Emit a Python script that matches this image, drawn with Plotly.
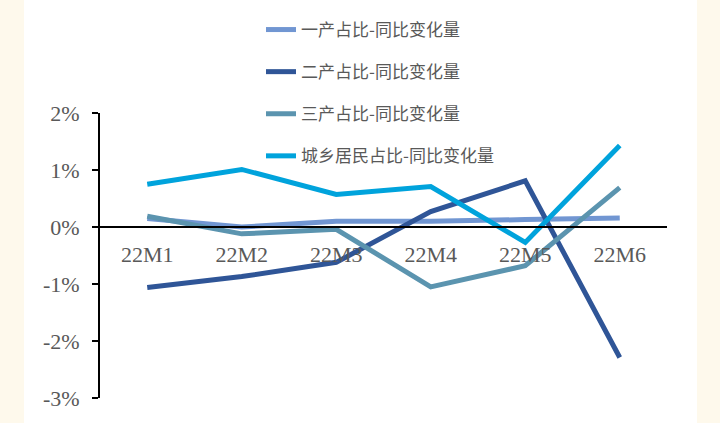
import plotly.graph_objects as go

categories = ["22M1", "22M2", "22M3", "22M4", "22M5", "22M6"]
primary = [0.15, 0.00, 0.10, 0.10, 0.13, 0.16]
secondary = [-1.06, -0.87, -0.62, 0.27, 0.81, -2.29]
tertiary = [0.19, -0.12, -0.04, -1.05, -0.68, 0.69]
residents = [0.75, 1.01, 0.57, 0.71, -0.27, 1.43]
series_names = ["一产占比-同比变化量", "二产占比-同比变化量", "三产占比-同比变化量", "城乡居民占比-同比变化量"]
series_colors = ["#7196D2", "#2F5597", "#5B94AF", "#00A3DC"]
y_ticks = [-3, -2, -1, 0, 1, 2]
y_tick_labels = ["-3%", "-2%", "-1%", "0%", "1%", "2%"]

fig = go.Figure()
for i, (name, vals, col) in enumerate(zip(series_names, [primary, secondary, tertiary, residents], series_colors)):
    fig.add_trace(go.Scatter(
        x=list(range(len(categories))), y=vals, name=name, mode="lines",
        line=dict(color=col, width=5), legendgroup=f"g{i}",
    ))

L, R, T, B = 100, 53, 113, 25
W, H = 720, 423
pw = W - L - R
ph = H - T - B
zero_pos = 3 / 5

fig.update_layout(
    width=W, height=H,
    margin=dict(l=L, r=R, t=T, b=B, autoexpand=False),
    paper_bgcolor="#FEF9EC",
    plot_bgcolor="white",
    font=dict(family="Liberation Serif, Times New Roman, serif", color="#595959"),
    showlegend=True,
    legend=dict(
        x=(261 - L) / pw, y=1 + (T - 12) / ph, xanchor="left", yanchor="top",
        bgcolor="rgba(0,0,0,0)", tracegroupgap=17,
        font=dict(family="Noto Sans CJK SC", size=17, color="#595959"),
        traceorder="grouped",
    ),
    shapes=[dict(
        type="rect", xref="paper", yref="paper", layer="below",
        x0=(24 - L) / pw, x1=(697 - L) / pw, y0=-0.5, y1=1.6,
        fillcolor="white", line=dict(width=0),
    )],
    xaxis=dict(
        range=[-0.5, 5.5], tickmode="array",
        tickvals=list(range(len(categories))), ticktext=categories,
        showgrid=False, zeroline=False, showline=True, linecolor="black", linewidth=2,
        ticks="", anchor="free", position=zero_pos,
        tickfont=dict(family="Liberation Serif", size=22, color="#595959"),
        ticklabelstandoff=8,
    ),
    yaxis=dict(
        range=[-3, 2], tickmode="array", tickvals=y_ticks, ticktext=y_tick_labels,
        showgrid=False, zeroline=False, showline=True, linecolor="black", linewidth=2,
        ticks="outside", ticklen=6, tickwidth=2, tickcolor="black",
        tickfont=dict(family="Liberation Serif", size=22, color="#595959"),
        ticklabelstandoff=8,
    ),
)

fig.write_html(
    "out.html",
    config={"displayModeBar": False},
    post_script="document.body.style.margin='0';document.body.style.overflow='hidden';",
)
